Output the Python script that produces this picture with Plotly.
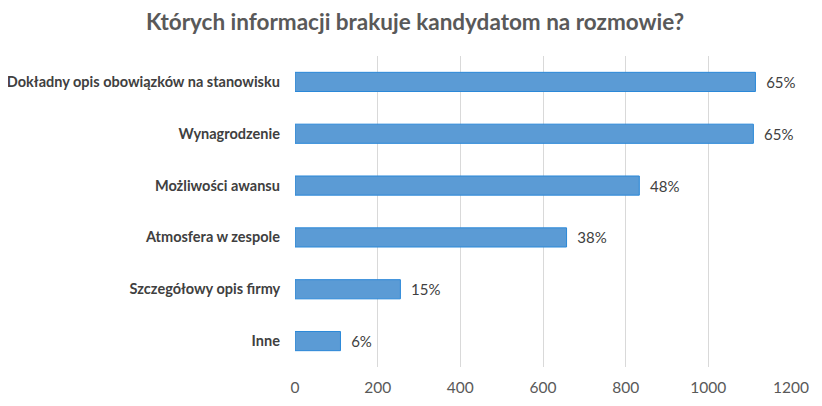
import plotly.graph_objects as go

# values (top to bottom)
categories = [
    "Dokładny opis obowiązków na stanowisku",
    "Wynagrodzenie",
    "Możliwości awansu",
    "Atmosfera w zespole",
    "Szczegółowy opis firmy",
    "Inne",
]
counts = [1114, 1109, 833, 657, 255, 110]
percent_labels = ["65%", "65%", "48%", "38%", "15%", "6%"]
tick_values = [0, 200, 400, 600, 800, 1000, 1200]

FONT = "Lato, Calibri, sans-serif"

fig = go.Figure()

fig.add_trace(go.Bar(
    y=categories[::-1],
    x=counts[::-1],
    orientation="h",
    text=["  " + p for p in percent_labels[::-1]],
    textposition="outside",
    textfont=dict(family=FONT, size=15, color="#404040"),
    cliponaxis=False,
    marker=dict(color="#5B9BD5", line=dict(color="#2B88D8", width=1)),
    hoverinfo="x+y",
))

# page body has an 8px margin, so the figure is a bit smaller than the window
fig.update_layout(
    width=814,
    height=398,
    paper_bgcolor="white",
    plot_bgcolor="white",
    margin=dict(l=287, r=31, t=48, b=39),
    bargap=0.63,
    showlegend=False,
    font=dict(family=FONT, color="#595959"),
    title=dict(
        text="<b>Których informacji brakuje kandydatom na rozmowie?</b>",
        x=0.5,
        xanchor="center",
        y=0.965,
        yanchor="middle",
        font=dict(family=FONT, size=22.5, color="#595959"),
    ),
)

fig.update_xaxes(
    range=[0, 1200],
    tickvals=tick_values,
    showgrid=True,
    gridcolor="#D9D9D9",
    gridwidth=1,
    zeroline=False,
    showline=False,
    automargin=False,
    ticks="outside",
    ticklen=6,
    tickcolor="rgba(0,0,0,0)",
    tickfont=dict(family=FONT, size=15.5, color="#595959"),
)

fig.update_yaxes(
    showgrid=False,
    showline=False,
    automargin=False,
    ticksuffix="    ",
    tickfont=dict(family=FONT, size=14.5, color="#404040", weight="bold"),
)

fig.write_html("out.html")
